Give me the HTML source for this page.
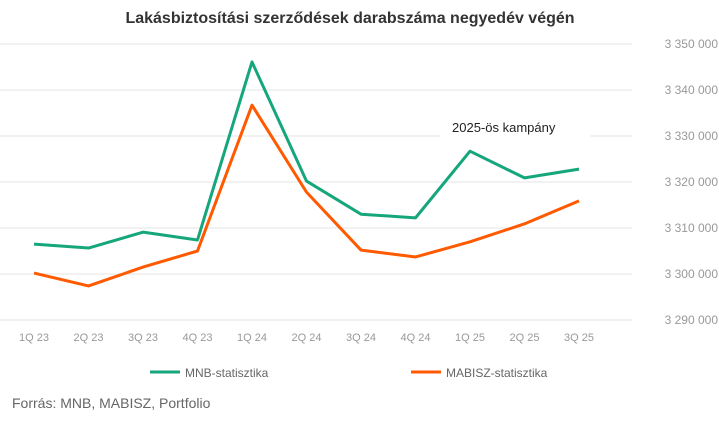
<!DOCTYPE html>
<html><head><meta charset="utf-8"><style>
body{margin:0;background:#fff;font-family:"Liberation Sans",sans-serif}
svg text{font-family:"Liberation Sans",sans-serif}
</style></head><body>
<svg width="719" height="417">
<text x="350" y="23" text-anchor="middle" font-size="16" font-weight="bold" fill="#333">Lakásbiztosítási szerződések darabszáma negyedév végén</text>
<g id="grid"></g><g id="xt"></g><g id="series"></g>
<g><rect x="440" y="114" width="150" height="26" fill="#fff"/><text x="452" y="132" font-size="13" fill="#222">2025-ös kampány</text></g>
<g>
<line x1="150" y1="372" x2="180" y2="372" stroke="#16a67c" stroke-width="3"/><text x="185" y="377" font-size="12" fill="#666">MNB-statisztika</text>
<line x1="411" y1="372" x2="441" y2="372" stroke="#ff5a00" stroke-width="3"/><text x="446" y="377" font-size="12" fill="#666">MABISZ-statisztika</text>
</g>
<text x="12" y="408" font-size="14" fill="#666">Forrás: MNB, MABISZ, Portfolio</text>
</svg>
<script>
const categories=["1Q 23","2Q 23","3Q 23","4Q 23","1Q 24","2Q 24","3Q 24","4Q 24","1Q 25","2Q 25","3Q 25"];
const mnb=[3306500,3305650,3309100,3307400,3346100,3320200,3313000,3312200,3326700,3320900,3322800];
const mabisz=[3300200,3297400,3301500,3305000,3336700,3317800,3305200,3303700,3307000,3310900,3315900];
const yTicks=[3290000,3300000,3310000,3320000,3330000,3340000,3350000];
const ns="http://www.w3.org/2000/svg";
const yMin=3290000,yMax=3350000,yTop=44,yBot=320;
const y=v=>yBot-(v-yMin)/(yMax-yMin)*(yBot-yTop);
const x=i=>34+i*54.5;
const fmt=v=>String(v).replace(/\B(?=(\d{3})+(?!\d))/g," ");
function mk(t,a,p){const e=document.createElementNS(ns,t);for(const k in a)e.setAttribute(k,a[k]);p.appendChild(e);return e;}
const g=document.getElementById('grid');
yTicks.forEach(v=>{
 const l=mk('line',{x1:0,x2:632,y1:y(v),y2:y(v),stroke:'#e4e4e4','stroke-width':1},g);
 
 
 const t=mk('text',{x:718,y:y(v)+4,'text-anchor':'end','font-size':12,fill:'#999'},g);t.textContent=fmt(v);
 
 
});
const xt=document.getElementById('xt');
categories.forEach((c,i)=>{
 const t=mk('text',{x:x(i),y:341,'text-anchor':'middle','font-size':11,fill:'#999'},xt);t.textContent=c;
 
 
});
const s=document.getElementById('series');
[[mnb,'#16a67c','mnb-line'],[mabisz,'#ff5a00','mabisz-line']].forEach(([d,c,n])=>{
 const p=mk('polyline',{points:d.map((v,i)=>x(i)+','+y(v)).join(' '),fill:'none',stroke:c,'stroke-width':3,'stroke-linejoin':'round'},s);
 
 
});
</script>
</body></html>
